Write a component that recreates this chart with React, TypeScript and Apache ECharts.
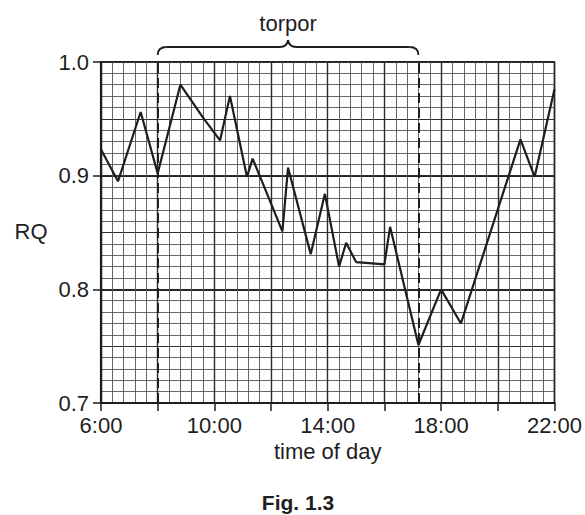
import React, { useEffect, useRef } from 'react';
import * as echarts from 'echarts';

// time of day (hours) and respiratory quotient
const hours = [6.0, 6.6, 7.4, 8.0, 8.8, 9.6, 10.2, 10.55, 11.15, 11.35, 12.4, 12.6, 13.4, 13.9, 14.4, 14.65, 15.0, 16.0, 16.2, 17.2, 18.0, 18.7, 20.8, 21.3, 22.0];
const rq = [0.923, 0.895, 0.956, 0.902, 0.98, 0.951, 0.931, 0.97, 0.899, 0.915, 0.851, 0.907, 0.831, 0.884, 0.82, 0.841, 0.824, 0.822, 0.855, 0.751, 0.8, 0.77, 0.932, 0.899, 0.976];

// start / end of torpor (dashed lines)
const torpor = [8.0, 17.2];

// labelled hours on the x axis
const xLabelHours = [6, 10, 14, 18, 22];

const FONT = "'Liberation Sans', Arial, Helvetica, sans-serif";
const INK = '#1e1e1e';

const App: React.FC = () => {
  const chartRef = useRef<HTMLDivElement>(null);

  useEffect(() => {
    if (!chartRef.current) return;
    const chart = echarts.init(chartRef.current, null, { renderer: 'svg' });

    const option = {
      animation: false,
      grid: {
        left: 101,
        right: 30,
        top: 62,
        bottom: 112,
        show: true,
        borderColor: INK,
        borderWidth: 1.5,
        backgroundColor: 'transparent',
      },
      xAxis: {
        type: 'value',
        min: 6,
        max: 22,
        interval: 2,
        axisLine: { onZero: false, lineStyle: { color: INK, width: 2.2 } },
        axisTick: { length: 8, lineStyle: { color: INK, width: 1.5 } },
        axisLabel: {
          margin: 11,
          color: INK,
          fontSize: 22,
          fontFamily: FONT,
          formatter: (v: number) => (xLabelHours.includes(v) ? `${v}:00` : ''),
        },
        splitLine: { lineStyle: { color: '#2a2a2a', width: 1.4 } },
        minorTick: { show: false, splitNumber: 5 },
        minorSplitLine: { show: true, lineStyle: { color: '#555', width: 0.9 } },
        name: 'time of day',
        nameLocation: 'middle',
        nameGap: 35,
        nameTextStyle: { color: INK, fontSize: 22, fontFamily: FONT },
      },
      yAxis: [
        {
          type: 'value',
          position: 'left',
          min: 0.7,
          max: 1.0,
          interval: 0.1,
          axisLine: { show: true, onZero: false, lineStyle: { color: INK, width: 2.2 } },
          axisTick: { show: true, length: 8, lineStyle: { color: INK, width: 1.5 } },
          axisLabel: {
            margin: 12,
            color: INK,
            fontSize: 22,
            fontFamily: FONT,
            formatter: (v: number) => v.toFixed(1),
          },
          splitLine: { lineStyle: { color: '#222', width: 1.8 } },
        },
        {
          type: 'value',
          position: 'left',
          min: 0.7,
          max: 1.0,
          interval: 0.05,
          axisLine: { show: false },
          axisTick: { show: false },
          axisLabel: { show: false },
          splitLine: { lineStyle: { color: '#2e2e2e', width: 1.2 } },
          minorTick: { show: false, splitNumber: 5 },
          minorSplitLine: { show: true, lineStyle: { color: '#555', width: 0.9 } },
        },
      ],
      series: [
        {
          type: 'line',
          data: hours.map((h, i) => [h, rq[i]]),
          xAxisIndex: 0,
          yAxisIndex: 0,
          symbol: 'none',
          z: 5,
          lineStyle: { color: INK, width: 2.2 },
          markLine: {
            silent: true,
            symbol: 'none',
            label: { show: false },
            lineStyle: { color: INK, width: 2, type: [10, 5] },
            data: torpor.map((t) => ({ xAxis: t })),
          },
        },
      ],
    };

    chart.setOption(option as any);

    // brace over the torpor period, placed from the axis scale
    const xa = (chart.convertToPixel({ gridIndex: 0 }, [torpor[0], 1.0]) as number[])[0];
    const xb = (chart.convertToPixel({ gridIndex: 0 }, [torpor[1], 1.0]) as number[])[0];
    const xm = (xa + xb) / 2;
    const yEnd = 55;
    const yBar = 47;
    const yTip = 40;
    const braceStyle = { stroke: INK, lineWidth: 1.8, fill: 'none' };

    chart.setOption({
      graphic: [
        { type: 'bezierCurve', shape: { x1: xa, y1: yEnd, x2: xa + 9, y2: yBar, cpx1: xa, cpy1: yBar }, style: braceStyle },
        { type: 'line', shape: { x1: xa + 9, y1: yBar, x2: xm - 8, y2: yBar }, style: braceStyle },
        { type: 'bezierCurve', shape: { x1: xm - 8, y1: yBar, x2: xm, y2: yTip, cpx1: xm - 1, cpy1: yBar }, style: braceStyle },
        { type: 'bezierCurve', shape: { x1: xm + 8, y1: yBar, x2: xm, y2: yTip, cpx1: xm + 1, cpy1: yBar }, style: braceStyle },
        { type: 'line', shape: { x1: xm + 8, y1: yBar, x2: xb - 9, y2: yBar }, style: braceStyle },
        { type: 'bezierCurve', shape: { x1: xb, y1: yEnd, x2: xb - 9, y2: yBar, cpx1: xb, cpy1: yBar }, style: braceStyle },
        {
          type: 'text',
          x: xm,
          y: 23,
          style: { text: 'torpor', fontSize: 22, fontFamily: FONT, fill: INK, align: 'center', verticalAlign: 'middle' },
        },
        {
          type: 'text',
          x: 31,
          y: 231,
          style: { text: 'RQ', fontSize: 22, fontFamily: FONT, fill: INK, align: 'center', verticalAlign: 'middle' },
        },
        {
          type: 'text',
          x: 298,
          y: 502,
          style: { text: 'Fig. 1.3', fontSize: 21, fontWeight: 'bold', fontFamily: FONT, fill: INK, align: 'center', verticalAlign: 'middle' },
        },
      ],
    });

    return () => {
      chart.dispose();
    };
  }, []);

  return <div ref={chartRef} style={{ position: 'absolute', left: 0, top: 0, width: 585, height: 515 }} />;
};

export default App;
